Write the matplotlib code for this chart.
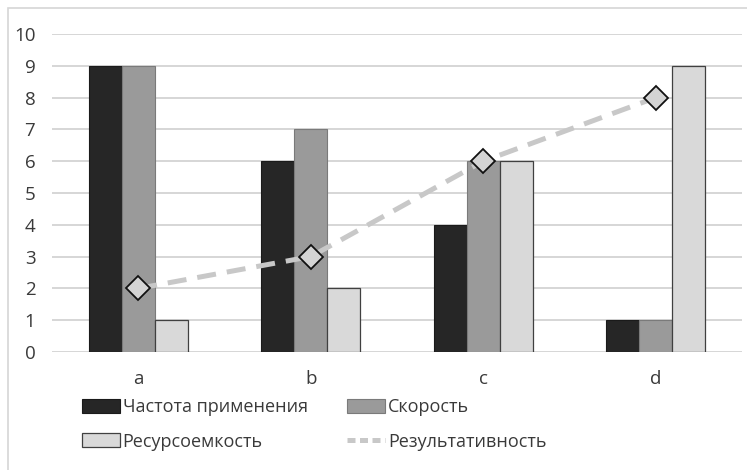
import matplotlib
matplotlib.use("Agg")
import matplotlib.pyplot as plt
from matplotlib.lines import Line2D
from matplotlib.patches import Rectangle
import numpy as np

categories = ["a", "b", "c", "d"]
freq = [9, 6, 4, 1]
speed = [9, 7, 6, 1]
resource = [1, 2, 6, 9]
result = [2, 3, 6, 8]
labels = ["Частота применения", "Скорость", "Ресурсоемкость", "Результативность"]
yticks = list(range(0, 11))

plt.rcParams['font.family'] = ['Open Sans', 'DejaVu Sans']
TXT = '#3a3a3a'

fig = plt.figure(figsize=(7.47, 4.70), dpi=100)
ax = fig.add_axes([52/747, 1-352/470, 690/747, 318/470])

x = np.arange(len(categories))
w = 0.191
b1 = ax.bar(x - w, freq, w, color='#262626', edgecolor='#1a1a1a', linewidth=0.8, zorder=2)
b2 = ax.bar(x, speed, w, color='#9a9a9a', edgecolor='#7a7a7a', linewidth=0.8, zorder=2)
b3 = ax.bar(x + w, resource, w, color='#d9d9d9', edgecolor='#404040', linewidth=0.9, zorder=2)
ax.plot(x, result, color='#c8c8c8', lw=3.6, dashes=(3.8, 2.2), zorder=3)
ax.plot(x, result, ls='none', marker='D', ms=12.5, mfc='#d4d4d4', mec='#111111', mew=1.3, zorder=4)

ax.set_xlim(-0.5, 3.5)
ax.set_ylim(0, 10)
ax.set_yticks(yticks)
ax.set_xticks(x)
ax.set_xticklabels(categories)
ax.grid(axis='y', color='#d6d6d6', lw=1.4, zorder=0)
ax.set_axisbelow(True)
for s in ax.spines.values():
    s.set_visible(False)
ax.tick_params(axis='both', length=0, labelsize=13.5, colors=TXT)
ax.tick_params(axis='y', pad=12)
ax.tick_params(axis='x', pad=13)
for t in ax.get_yticklabels():
    t.set_horizontalalignment('right')

line_h = Line2D([], [], color='#c8c8c8', lw=3.6, dashes=(1.6, 0.9))
handles = [b1, b3, b2, line_h]
hl = [labels[0], labels[2], labels[1], labels[3]]
fig.legend(handles, hl, ncol=2, loc='upper left', bbox_to_anchor=(82/747, 1-398/470),
           frameon=False, fontsize=13, handlelength=2.1, handleheight=0.8,
           handletextpad=0.15, columnspacing=2.2, labelspacing=0.92, borderpad=0,
           borderaxespad=0, labelcolor=TXT)

fig.patches.append(Rectangle((8/747, -0.1), 1.2, 1 - 8/470 + 0.1, transform=fig.transFigure,
                             fill=False, edgecolor='#d6d6d6', lw=1.2))

fig.savefig("out.png", dpi=100)
